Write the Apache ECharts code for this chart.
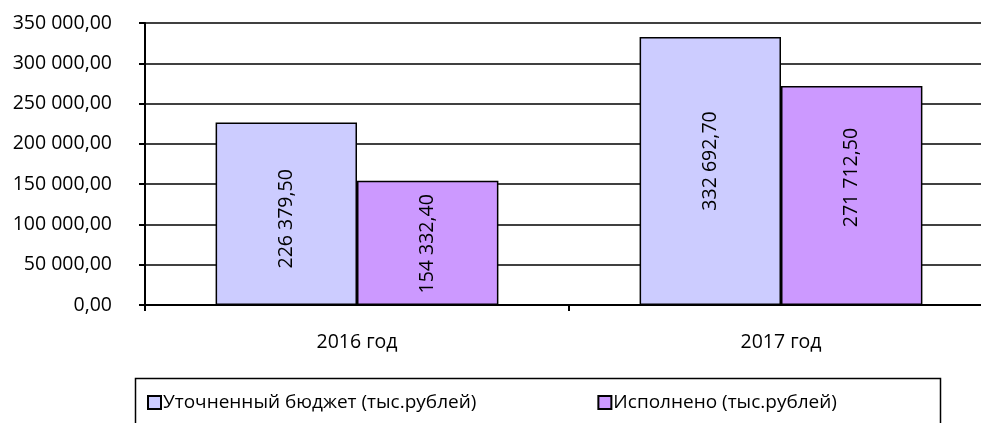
<!DOCTYPE html>
<html><head><meta charset="utf-8">
<script src="https://cdn.jsdelivr.net/npm/echarts@6/dist/echarts.min.js"></script>
<style>html,body{margin:0;padding:0;background:#fff;overflow:hidden;width:981px;height:423px}#c{width:993px;height:423px}</style>
</head><body><div id="c"></div>
<script>
const categories = ['2016 год', '2017 год'];
const seriesNames = ['Уточненный бюджет (тыс.рублей)', 'Исполнено (тыс.рублей)'];
const budget = [226379.50, 332692.70];
const executed = [154332.40, 271712.50];
const yMin = 0, yMax = 350000, yStep = 50000;

// label nudges (style only), per category, in px (negative = up)
const labelNudgeBudget = [5, -10];
const labelNudgeExecuted = [1, -18];

const FONT = 'Open Sans';
function fmt(v) {
  const s = Number(v).toFixed(2).split('.');
  return s[0].replace(/\B(?=(\d{3})+(?!\d))/g, ' ') + ',' + s[1];
}
const chart = echarts.init(document.getElementById('c'), null, {renderer: 'canvas'});
const labelCfg = {
  show: true, position: 'inside', rotate: 90, color: '#000',
  fontFamily: FONT, fontSize: 19.5, formatter: p => fmt(p.value)
};
// offset is applied in the rotated label frame: local +x points up on screen
function withNudge(values, nudges) {
  return values.map((v, i) => ({value: v, label: {offset: [-nudges[i], 0]}}));
}
chart.setOption({
  animation: false,
  backgroundColor: '#fff',
  textStyle: {fontFamily: FONT},
  grid: {left: 145, top: 23, bottom: 118, right: 0, containLabel: false},
  legend: {
    left: 142, top: 388, itemGap: 121, itemWidth: 13, itemHeight: 13,
    icon: 'rect',
    textStyle: {fontFamily: FONT, fontSize: 19, color: '#000', padding: [0, 0, 0, -3]},
    data: seriesNames
  },
  graphic: [{
    type: 'rect', left: 133, top: 376,
    shape: {width: 805, height: 60},
    style: {fill: 'none', stroke: '#000', lineWidth: 1.5}, silent: true, z: -1
  }],
  xAxis: {
    type: 'category', data: categories,
    axisLine: {lineStyle: {color: '#000', width: 2}},
    axisTick: {show: true, length: 6, lineStyle: {color: '#000', width: 2}},
    axisLabel: {color: '#000', fontFamily: FONT, fontSize: 19.5, margin: 27}
  },
  yAxis: {
    type: 'value', min: yMin, max: yMax, interval: yStep,
    axisLine: {show: true, lineStyle: {color: '#000', width: 2}},
    axisTick: {show: true, length: 6, lineStyle: {color: '#000', width: 2}},
    splitLine: {lineStyle: {color: '#000', width: 1.5}},
    axisLabel: {color: '#000', fontFamily: FONT, fontSize: 19.5, margin: 33, formatter: v => fmt(v)}
  },
  series: [
    {name: seriesNames[0], type: 'bar', data: withNudge(budget, labelNudgeBudget), barGap: '0%', barCategoryGap: '33.3%',
     itemStyle: {color: '#CCCCFF', borderColor: '#000', borderWidth: 1.5}, label: labelCfg},
    {name: seriesNames[1], type: 'bar', data: withNudge(executed, labelNudgeExecuted), barGap: '0%', barCategoryGap: '33.3%',
     itemStyle: {color: '#CC99FF', borderColor: '#000', borderWidth: 1.5}, label: labelCfg}
  ]
});
</script></body></html>
